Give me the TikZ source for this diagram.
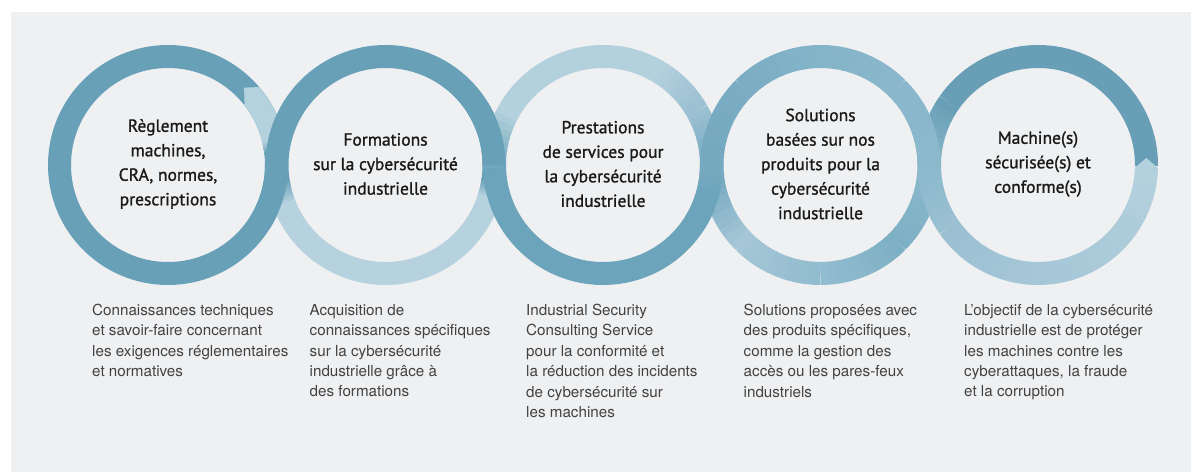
\documentclass[tikz,border=0pt]{standalone}
\usepackage{fontspec}
\setmainfont{PT Sans}
\newfontfamily\titlefont[FakeBold=1.2]{PT Sans}
\newfontfamily\descfont{TeX Gyre Heros}
\definecolor{bg}{RGB}{239,240,242}
\definecolor{titlecol}{RGB}{26,26,26}
\definecolor{desccol}{RGB}{66,66,66}
\definecolor{dk}{RGB}{104,160,184}
\definecolor{lt}{RGB}{180,209,222}
\definecolor{rtwol}{RGB}{182,210,223}
\definecolor{rthl}{RGB}{179,208,221}
\definecolor{rthd}{RGB}{108,164,187}
\definecolor{rthm}{RGB}{118,170,193}
\definecolor{rthn}{RGB}{155,192,210}
\definecolor{rfa}{RGB}{132,180,200}
\definecolor{rfb}{RGB}{122,173,195}
\definecolor{rfc}{RGB}{116,168,191}
\definecolor{rfd}{RGB}{164,198,214}
\definecolor{rfe}{RGB}{146,188,207}
\definecolor{rff}{RGB}{126,176,197}
\definecolor{rfg}{RGB}{139,184,203}
\definecolor{rfh}{RGB}{138,183,203}
\definecolor{rvd}{RGB}{105,159,182}
\definecolor{rvm}{RGB}{141,186,205}
\definecolor{rvn}{RGB}{154,192,210}
\definecolor{rvo}{RGB}{165,199,215}
\definecolor{rvl}{RGB}{179,208,221}
\tikzset{
  ringline/.style={line width=23pt, line cap=butt},
  titletext/.style={font=\titlefont\fontsize{17.5}{24.5}\selectfont, align=center, text=titlecol, inner sep=0pt},
  desctext/.style={font=\descfont\fontsize{15.2}{20.4}\selectfont, align=left, text=desccol, anchor=north west, inner sep=0pt}
}
% solid arc: center, a1, a2, colour
\newcommand\sarc[4]{\draw[ringline,color=#4] (#1) ++(#2:108.5) arc[start angle=#2,end angle=#3,radius=108.5];}
% gradient arc: center, a1, a2, col1, col2
\newcommand\garc[5]{%
  \foreach \k in {0,...,9}{%
    \pgfmathsetmacro\aa{#2+(#3-#2)*\k/10}%
    \pgfmathsetmacro\ab{#2+(#3-#2)*(\k+1)/10+(\k<9 ? 0.5 : 0)}%
    \pgfmathtruncatemacro\pp{100-100*\k/9}%
    \draw[ringline,color=#4!\pp!#5] (#1) ++(\aa:108.5) arc[start angle=\aa,end angle=\ab,radius=108.5];
  }%
}
\begin{document}
\begin{tikzpicture}[x=1pt,y=1pt]
\useasboundingbox (0,0) rectangle (1191,472);
\fill[white] (0,0) rectangle (1191,472);
\fill[bg] (11,0) rectangle (1191,460);
\coordinate (c1) at (168,307);
\coordinate (c2) at (385.5,307);
\coordinate (c3) at (603,307);
\coordinate (c4) at (820.5,307);
\coordinate (c5) at (1038,307);
% ring 1
\sarc{c1}{0}{360}{dk}
\garc{c1}{6}{14}{dk}{lt}
\sarc{c1}{14}{38.5}{lt}
\begin{scope}[shift={(c1)}]
  \fill[lt] (38:96.6) -- (38:120) arc[start angle=38,end angle=40.5,radius=120] -- (45.5:108.5) -- (37.5:96.6) -- cycle;
\end{scope}
% ring 2
\sarc{c2}{-10}{188}{dk}
\garc{c2}{188}{202}{dk}{rtwol}
\sarc{c2}{202}{342}{rtwol}
\garc{c2}{342}{352}{rtwol}{dk}
% ring 1 over ring 2 (lower crossing)
\sarc{c1}{-32}{0.3}{dk}
% ring 3
\sarc{c3}{60}{150}{rthl}
\garc{c3}{150}{185}{rthl}{rthd}
\sarc{c3}{185}{340}{rthd}
\garc{c3}{340}{360}{rthd}{rthm}
\garc{c3}{0}{30}{rthm}{rthn}
\garc{c3}{30}{60.5}{rthn}{rthl}
% ring 2 over ring 3 (upper crossing)
\sarc{c2}{-0.3}{32}{dk}
% ring 4
\garc{c4}{90}{135}{rfa}{rfb}
\garc{c4}{135}{185}{rfb}{rfc}
\garc{c4}{185}{225}{rfc}{rfd}
\garc{c4}{225}{270}{rfd}{rfe}
\garc{c4}{270}{315}{rfe}{rff}
\garc{c4}{315}{360}{rff}{rfg}
\garc{c4}{0}{45}{rfg}{rfh}
\garc{c4}{45}{90.5}{rfh}{rfa}
% ring 3 over ring 4 (lower crossing)
\sarc{c3}{328}{340}{rthd}
\garc{c3}{340}{360.3}{rthd}{rthm}
% ring 5
\sarc{c5}{-0.5}{145}{rvd}
\garc{c5}{145}{185}{rvd}{rvm}
\garc{c5}{185}{215}{rvm}{rvn}
\garc{c5}{215}{270}{rvn}{rvo}
\garc{c5}{270}{358.5}{rvo}{rvl}
\begin{scope}[shift={(c5)}]
  \fill[rvl] (-2:96.6) -- (-2:120) -- (-1.4:120) -- (3.7:108.5) -- (-1.8:96.6) -- cycle;
\end{scope}
% ring 4 over ring 5 (upper crossing)
\garc{c4}{-0.3}{32}{rfg}{rfh}
% titles
\node[titletext] (t1) at ([yshift=1pt]c1) {Règlement\\machines,\\CRA, normes,\\prescriptions};
\node[titletext] (t2) at ([yshift=1pt]c2) {Formations\\sur la cybersécurité\\industrielle};
\node[titletext] (t3) at ([yshift=1pt]c3) {Prestations\\de services pour\\la cybersécurité\\industrielle};
\node[titletext] (t4) at ([yshift=1pt]c4) {Solutions\\basées sur nos\\produits pour la\\cybersécurité\\industrielle};
\node[titletext] (t5) at ([yshift=1pt]c5) {Machine(s)\\sécurisée(s) et\\conforme(s)};
% descriptions
\node[desctext] (d1) at ([xshift=-76pt,yshift=-139pt]c1) {Connaissances techniques\\et savoir-faire concernant\\les exigences réglementaires\\et normatives};
\node[desctext] (d2) at ([xshift=-76pt,yshift=-139pt]c2) {Acquisition de\\connaissances spécifiques\\sur la cybersécurité\\industrielle grâce à\\des formations};
\node[desctext] (d3) at ([xshift=-77pt,yshift=-139pt]c3) {Industrial Security\\Consulting Service\\pour la conformité et\\la réduction des incidents\\de cybersécurité sur\\les machines};
\node[desctext] (d4) at ([xshift=-77pt,yshift=-139pt]c4) {Solutions proposées avec\\des produits spécifiques,\\comme la gestion des\\accès ou les pares-feux\\industriels};
\node[desctext] (d5) at ([xshift=-74pt,yshift=-139pt]c5) {L’objectif de la cybersécurité\\industrielle est de protéger\\les machines contre les\\cyberattaques, la fraude\\et la corruption};
\end{tikzpicture}
\end{document}
